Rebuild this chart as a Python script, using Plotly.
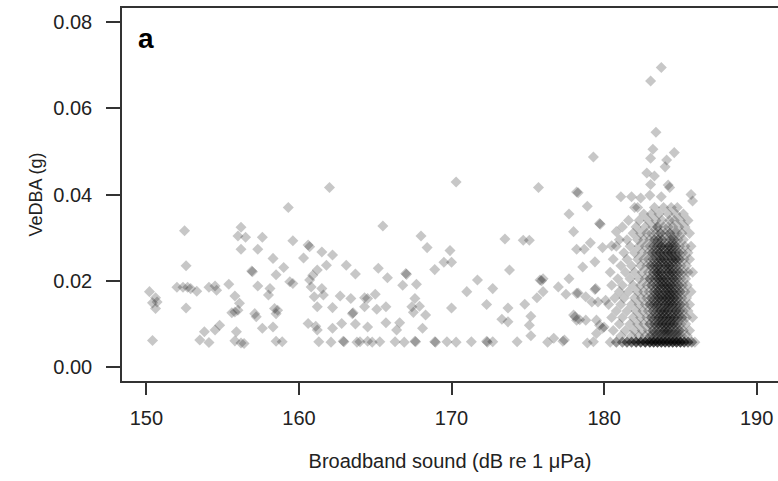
import plotly.graph_objects as go

# ---------------- data ----------------
x_ticks = [150, 160, 170, 180, 190]
y_ticks = [0.00, 0.02, 0.04, 0.06, 0.08]
y_ticktext = ["0.00", "0.02", "0.04", "0.06", "0.08"]

# scattered individual observations
sparse_x = [150.2, 150.6, 150.4, 150.7, 150.6, 150.4, 152.5, 152.6, 152.6, 152.0, 152.4, 152.7, 152.9, 153.3,
            154.1, 154.5, 154.6, 155.4, 155.8, 156.1, 155.6, 155.8, 156.0, 154.8, 154.5, 153.8, 153.5, 154.1,
            155.9, 155.8, 156.2, 156.4, 156.2, 156.0, 156.5, 157.6, 156.2, 157.3, 158.3, 156.9, 156.95, 159.0,
            158.5, 157.3, 158.1, 158.0, 157.1, 157.2, 158.4, 158.6, 158.5, 157.6, 158.3, 158.5, 158.9, 159.3,
            162.0, 165.5, 168.0, 168.4, 168.9, 159.6, 160.6, 160.7, 161.5, 162.2, 160.3, 161.8, 163.1, 163.7,
            161.2, 160.9, 160.7, 159.4, 159.6, 160.8, 161.5, 161.6, 161.0, 162.7, 163.4, 164.3, 164.5, 165.0,
            165.2, 165.8, 167.0, 167.05, 166.8, 167.7, 161.2, 162.2, 163.5, 163.55, 164.3, 165.1, 165.7, 167.6,
            167.4, 167.9, 167.5, 168.3, 160.6, 161.1, 161.2, 162.2, 162.8, 163.7, 164.5, 165.7, 166.6, 166.4,
            168.1, 161.3, 162.1, 162.9, 162.95, 163.8, 164.0, 164.5, 164.8, 165.3, 166.3, 166.9, 167.6, 167.65,
            168.9, 168.95, 170.3, 175.7, 178.2, 177.7, 178.0, 178.2, 173.5, 174.7, 175.1, 169.9, 169.5, 170.0,
            173.8, 171.7, 175.8, 176.0, 175.9, 177.7, 171.0, 172.7, 176.0, 177.0, 177.5, 178.2, 175.6, 174.8,
            170.0, 172.3, 173.7, 173.3, 173.7, 175.2, 175.1, 175.2, 178.0, 178.2, 169.7, 170.3, 171.3, 172.3,
            172.35, 172.7, 174.3, 176.3, 177.3, 176.7,
            183.75, 183.05, 183.4, 183.2, 184.6, 183.05, 179.3, 184.1, 184.0, 182.8, 183.3, 183.05, 184.2, 184.3,
            178.3, 185.7, 185.8, 181.1, 181.8, 182.4, 183.0, 183.75, 178.9, 179.7, 179.75, 180.8, 179.1, 178.7,
            179.9, 180.5, 178.6, 179.4, 179.4, 179.45, 178.3, 178.8, 179.2, 179.6, 180.1, 178.1, 178.4, 178.8,
            179.5, 179.7, 180.0, 177.4, 178.9, 179.3, 179.5, 179.9]
sparse_y = [0.0175, 0.0161, 0.0149, 0.0151, 0.0136, 0.0062, 0.0316, 0.0235, 0.0137, 0.0185, 0.0185, 0.0185, 0.0182, 0.0176,
            0.0185, 0.0188, 0.0178, 0.0192, 0.0165, 0.0148, 0.0126, 0.0128, 0.0132, 0.0097, 0.0086, 0.0082, 0.0063, 0.0057,
            0.0082, 0.0061, 0.0056, 0.0055, 0.0324, 0.0304, 0.0301, 0.0301, 0.0273, 0.0273, 0.0252, 0.0223, 0.0221, 0.0231,
            0.0214, 0.0188, 0.0182, 0.0167, 0.0124, 0.0117, 0.0136, 0.0132, 0.0124, 0.0090, 0.0093, 0.0060, 0.0059, 0.0370,
            0.0416, 0.0327, 0.0304, 0.0277, 0.0226, 0.0293, 0.0283, 0.0279, 0.0267, 0.0260, 0.0253, 0.0236, 0.0236, 0.0216,
            0.0225, 0.0213, 0.0202, 0.0198, 0.0194, 0.0186, 0.0182, 0.0167, 0.0163, 0.0165, 0.0159, 0.0161, 0.0159, 0.0169,
            0.0229, 0.0207, 0.0217, 0.0215, 0.0190, 0.0192, 0.0140, 0.0138, 0.0124, 0.0126, 0.0140, 0.0134, 0.0140, 0.0159,
            0.0140, 0.0141, 0.0127, 0.0121, 0.0101, 0.0095, 0.0086, 0.0090, 0.0101, 0.0100, 0.0093, 0.0103, 0.0103, 0.0086,
            0.0090, 0.0059, 0.0058, 0.0060, 0.0059, 0.0058, 0.0059, 0.0060, 0.0058, 0.0059, 0.0059, 0.0058, 0.0060, 0.0059,
            0.0059, 0.0058, 0.0429, 0.0416, 0.0406, 0.0355, 0.0314, 0.0273, 0.0297, 0.0294, 0.0294, 0.0270, 0.0243, 0.0243,
            0.0225, 0.0202, 0.0202, 0.0205, 0.0200, 0.0205, 0.0175, 0.0182, 0.0175, 0.0186, 0.0169, 0.0171, 0.0161, 0.0146,
            0.0137, 0.0145, 0.0137, 0.0111, 0.0105, 0.0118, 0.0097, 0.0073, 0.0121, 0.0109, 0.0059, 0.0058, 0.0059, 0.0060,
            0.0058, 0.0059, 0.0059, 0.0058, 0.0060, 0.0067,
            0.0694, 0.0663, 0.0544, 0.0505, 0.0497, 0.0484, 0.0487, 0.0480, 0.0464, 0.0450, 0.0443, 0.0423, 0.0422, 0.0416,
            0.0404, 0.0400, 0.0385, 0.0395, 0.0395, 0.0392, 0.0398, 0.0395, 0.0373, 0.0333, 0.0331, 0.0314, 0.0288, 0.0273,
            0.0277, 0.0281, 0.0232, 0.0244, 0.0180, 0.0182, 0.0172, 0.0163, 0.0151, 0.0151, 0.0155, 0.0117, 0.0110, 0.0109,
            0.0109, 0.0097, 0.0093, 0.0063, 0.0056, 0.0059, 0.0078, 0.0090]

# dense cluster near 181-186 dB: one y level per row, x positions and number of overlapping observations
cluster_row_y = [0.0370, 0.0355, 0.0340, 0.0325, 0.0310, 0.0295, 0.0280, 0.0265, 0.0250, 0.0235, 0.0220,
                 0.0205, 0.0190, 0.0175, 0.0160, 0.0145, 0.0130, 0.0115, 0.0100, 0.0085, 0.0072, 0.0058]
cluster_row_x = [
    [182.0, 182.2, 183.3, 183.9, 184.4, 184.8],
    [182.6, 183.1, 183.6, 184.2, 184.7, 185.2],
    [181.6, 182.3, 182.9, 183.4, 183.8, 184.3, 184.6, 185.0, 185.5],
    [181.2, 182.1, 182.7, 183.2, 183.5, 183.9, 184.2, 184.5, 184.9, 185.3],
    [181.9, 182.4, 182.8, 183.1, 183.4, 183.7, 184.0, 184.3, 184.6, 184.8, 185.1, 185.6],
    [181.0, 181.5, 182.2, 182.6, 183.0, 183.3, 183.55, 183.8, 184.1, 184.35, 184.6, 184.85, 185.2],
    [180.8, 181.7, 182.3, 182.7, 183.0, 183.25, 183.5, 183.75, 184.0, 184.25, 184.5, 184.7, 184.95, 185.3, 185.7],
    [181.3, 182.0, 182.5, 182.9, 183.15, 183.4, 183.65, 183.9, 184.15, 184.4, 184.65, 184.9, 185.15, 185.5],
    [180.6, 181.5, 182.2, 182.6, 182.9, 183.2, 183.45, 183.7, 183.95, 184.2, 184.45, 184.7, 184.95, 185.25, 185.6],
    [181.1, 181.8, 182.4, 182.8, 183.05, 183.3, 183.55, 183.8, 184.05, 184.3, 184.55, 184.8, 185.05, 185.4],
    [180.4, 181.4, 182.0, 182.5, 182.9, 183.2, 183.45, 183.7, 183.95, 184.2, 184.45, 184.7, 184.95, 185.2, 185.5, 185.8],
    [180.9, 181.7, 182.3, 182.7, 183.0, 183.3, 183.55, 183.8, 184.05, 184.3, 184.55, 184.8, 185.05, 185.35],
    [180.5, 181.2, 181.9, 182.4, 182.8, 183.1, 183.4, 183.65, 183.9, 184.15, 184.4, 184.65, 184.9, 185.15, 185.45],
    [181.0, 181.6, 182.2, 182.6, 182.95, 183.25, 183.5, 183.75, 184.0, 184.25, 184.5, 184.75, 185.0, 185.3, 185.7],
    [180.7, 181.3, 182.0, 182.45, 182.8, 183.1, 183.35, 183.6, 183.85, 184.1, 184.35, 184.6, 184.85, 185.1, 185.4],
    [180.3, 181.1, 181.8, 182.3, 182.7, 183.0, 183.25, 183.5, 183.75, 184.0, 184.25, 184.5, 184.75, 185.0, 185.25, 185.6],
    [180.8, 181.5, 182.1, 182.55, 182.9, 183.2, 183.45, 183.7, 183.95, 184.2, 184.45, 184.7, 184.95, 185.2, 185.5],
    [180.5, 181.2, 181.9, 182.4, 182.8, 183.1, 183.35, 183.6, 183.85, 184.1, 184.35, 184.6, 184.85, 185.1, 185.4, 185.8],
    [181.0, 181.7, 182.2, 182.6, 183.0, 183.3, 183.55, 183.8, 184.05, 184.3, 184.55, 184.8, 185.05, 185.35],
    [180.6, 181.4, 182.0, 182.5, 182.9, 183.2, 183.45, 183.7, 183.95, 184.2, 184.45, 184.7, 184.95, 185.2, 185.6],
    [181.1, 181.8, 182.3, 182.7, 183.05, 183.35, 183.6, 183.85, 184.1, 184.35, 184.6, 184.85, 185.1, 185.45],
    [180.4, 180.8, 181.2, 181.5, 181.8, 182.1, 182.4, 182.7, 183.0, 183.25, 183.5, 183.75, 184.0, 184.25, 184.5,
     184.75, 185.0, 185.25, 185.5, 185.75, 185.95],
]
cluster_row_n = [
    [1, 1, 1, 1, 1, 1],
    [1, 1, 1, 1, 1, 1],
    [1, 1, 1, 1, 1, 1, 1, 1, 1],
    [1, 1, 1, 1, 2, 1, 1, 1, 1, 1],
    [1, 1, 1, 1, 1, 2, 1, 2, 1, 1, 1, 1],
    [1, 1, 1, 1, 1, 2, 2, 2, 1, 2, 2, 1, 1],
    [1, 1, 1, 1, 1, 2, 2, 3, 2, 3, 2, 2, 1, 1, 1],
    [1, 1, 1, 1, 2, 2, 3, 2, 3, 3, 2, 2, 1, 1],
    [1, 1, 1, 1, 1, 2, 2, 3, 3, 2, 3, 3, 2, 1, 1],
    [1, 1, 1, 1, 2, 2, 3, 2, 3, 3, 2, 2, 1, 1],
    [1, 1, 1, 1, 1, 2, 3, 3, 2, 3, 3, 2, 2, 1, 1, 1],
    [1, 1, 1, 1, 2, 2, 3, 3, 3, 2, 3, 2, 1, 1],
    [1, 1, 1, 1, 1, 2, 2, 3, 3, 3, 3, 2, 2, 1, 1],
    [1, 1, 1, 1, 1, 2, 3, 2, 3, 3, 3, 2, 2, 1, 1],
    [1, 1, 1, 1, 1, 2, 2, 3, 3, 3, 3, 3, 2, 1, 1],
    [1, 1, 1, 1, 1, 2, 2, 3, 2, 3, 3, 3, 2, 2, 1, 1],
    [1, 1, 1, 1, 1, 2, 2, 3, 3, 3, 2, 3, 2, 1, 1],
    [1, 1, 1, 1, 1, 2, 2, 3, 3, 3, 3, 3, 2, 2, 1, 1],
    [1, 1, 1, 1, 2, 2, 3, 3, 3, 3, 3, 2, 1, 1],
    [1, 1, 1, 1, 1, 2, 2, 2, 3, 3, 2, 2, 2, 1, 1],
    [1, 1, 1, 1, 2, 2, 2, 2, 2, 2, 2, 2, 1, 1],
    [1, 2, 2, 3, 3, 4, 4, 5, 5, 5, 5, 5, 5, 5, 5, 5, 5, 4, 3, 2, 1],
]

# ---------------- build ----------------
BASE_ALPHA = 0.22
xs = list(sparse_x)
ys = list(sparse_y)
ns = [1] * len(sparse_x)
for yv, rx, rn in zip(cluster_row_y, cluster_row_x, cluster_row_n):
    for xv, nv in zip(rx, rn):
        xs.append(xv)
        ys.append(yv)
        ns.append(nv)
opac = [1 - (1 - BASE_ALPHA) ** n for n in ns]

FONT = "Liberation Sans, Arial, Helvetica, sans-serif"
AX = "#333333"

fig = go.Figure()
fig.add_trace(go.Scatter(
    x=xs, y=ys, mode="markers",
    marker=dict(symbol="diamond", size=8.5, color="black", opacity=opac, line=dict(width=0)),
    hoverinfo="skip",
))

fig.update_layout(
    width=778, height=481,
    margin=dict(l=122, r=0, t=8, b=100),
    plot_bgcolor="white", paper_bgcolor="white",
    showlegend=False,
    font=dict(family=FONT, color="#222222"),
)
fig.update_xaxes(
    range=[148.4, 191.4], tickvals=x_ticks, ticktext=[str(v) for v in x_ticks],
    ticks="outside", ticklen=12, tickwidth=1.5, tickcolor=AX,
    showline=True, linecolor=AX, linewidth=1.5, mirror=True,
    showgrid=False, zeroline=False,
    tickfont=dict(size=20), ticklabelstandoff=6,
    title=dict(text="Broadband sound (dB re 1 μPa)", font=dict(size=20), standoff=26),
)
fig.update_yaxes(
    range=[-0.0032, 0.0832], tickvals=y_ticks, ticktext=y_ticktext,
    ticks="outside", ticklen=14, tickwidth=1.5, tickcolor=AX,
    showline=True, linecolor=AX, linewidth=1.5, mirror=False,
    showgrid=False, zeroline=False,
    tickfont=dict(size=20), ticklabelstandoff=10,
    title=dict(text="VeDBA (g)", font=dict(size=18), standoff=6),
)
fig.add_annotation(
    text="<b>a</b>", xref="paper", yref="paper", x=0.021, y=0.871,
    xanchor="left", yanchor="bottom", showarrow=False,
    font=dict(family=FONT, size=28, color="black"),
)

fig.write_html("out.html")
